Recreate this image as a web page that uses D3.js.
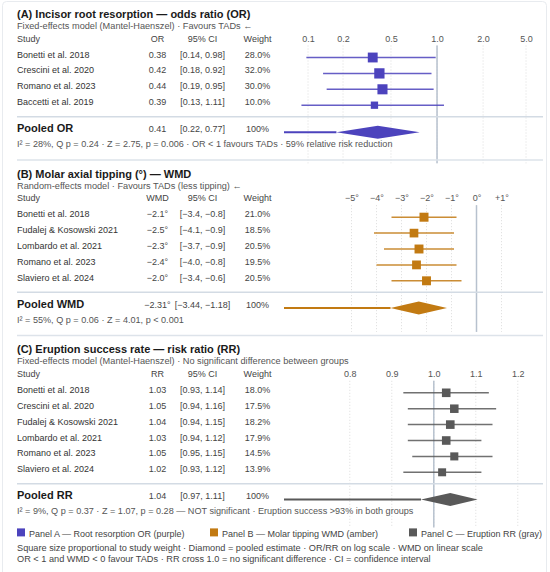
<!DOCTYPE html>
<html>
<head>
<meta charset="utf-8">
<script src="https://d3js.org/d3.v7.min.js"></script>
<style>
    body { margin: 0; background: #fff; }
    svg text { font-family: "Liberation Sans", Arial, sans-serif; }
</style>
</head>
<body>
<div id="chart"></div>
<script>
// Panel A - incisor root resorption, odds ratio
var studiesA = ["Bonetti et al. 2018", "Crescini et al. 2020", "Romano et al. 2023", "Baccetti et al. 2019"];
var estA = [0.38, 0.42, 0.44, 0.39];
var lowA = [0.14, 0.18, 0.19, 0.13];
var highA = [0.98, 0.92, 0.95, 1.11];
var weightA = [28.0, 32.0, 30.0, 10.0];
var pooledA = [0.41, 0.22, 0.77];
var ticksA = [0.1, 0.2, 0.5, 1.0, 2.0, 5.0];

// Panel B - molar axial tipping, weighted mean difference (degrees)
var studiesB = ["Bonetti et al. 2018", "Fudalej & Kosowski 2021", "Lombardo et al. 2021", "Romano et al. 2023", "Slaviero et al. 2024"];
var estB = [-2.1, -2.5, -2.3, -2.4, -2.0];
var lowB = [-3.4, -4.1, -3.7, -4.0, -3.4];
var highB = [-0.8, -0.9, -0.9, -0.8, -0.6];
var weightB = [21.0, 18.5, 20.5, 19.5, 20.5];
var pooledB = [-2.31, -3.44, -1.18];
var ticksB = [-5, -4, -3, -2, -1, 0, 1];

// Panel C - eruption success, risk ratio
var studiesC = ["Bonetti et al. 2018", "Crescini et al. 2020", "Fudalej & Kosowski 2021", "Lombardo et al. 2021", "Romano et al. 2023", "Slaviero et al. 2024"];
var estC = [1.03, 1.05, 1.04, 1.03, 1.05, 1.02];
var lowC = [0.93, 0.94, 0.94, 0.94, 0.95, 0.93];
var highC = [1.14, 1.16, 1.15, 1.12, 1.15, 1.12];
var weightC = [18.0, 17.5, 18.2, 17.9, 14.5, 13.9];
var pooledC = [1.04, 0.97, 1.11];
var ticksC = [0.8, 0.9, 1.0, 1.1, 1.2];

var legendItems = ["Panel A — Root resorption OR (purple)", "Panel B — Molar tipping WMD (amber)", "Panel C — Eruption RR (gray)"];
var notes = [
    "Square size proportional to study weight · Diamond = pooled estimate · OR/RR on log scale · WMD on linear scale",
    "OR < 1 and WMD < 0 favour TADs · RR cross 1.0 = no significant difference · CI = confidence interval"
];

var width = 550, height = 572;
var xL = 284, xR = 544;
var colStudy = 17, colEst = 157.5, colCI = 202.5, colW = 257.5;
var rowH = 15.9;

var fmt1 = d3.format(".1f"), fmt2 = d3.format(".2f");
var deg1 = function (v) { return fmt1(v) + "°"; };
var deg2 = function (v) { return fmt2(v) + "°"; };

var panels = [
    {
        title: "(A) Incisor root resorption — odds ratio (OR)",
        sub: "Fixed-effects model (Mantel-Haenszel) · Favours TADs ←",
        head: "OR", pooledLabel: "Pooled OR",
        foot: "I² = 28%, Q p = 0.24 · Z = 2.75, p = 0.006 · OR < 1 favours TADs · 59% relative risk reduction",
        studies: studiesA, est: estA, low: lowA, high: highA, weight: weightA, pooled: pooledA, ticks: ticksA,
        color: "#4c43bd",
        x: d3.scaleLog().domain([0.1, 5]).range([xL, xR]),
        fEst: fmt2, fCI: fmt2, fPooled: fmt2, fTick: d3.format(".1f"),
        tickMode: "spread", ref: 1, refExtra: 31
    },
    {
        title: "(B) Molar axial tipping (°) — WMD",
        sub: "Random-effects model · Favours TADs (less tipping) ←",
        head: "WMD", pooledLabel: "Pooled WMD",
        foot: "I² = 55%, Q p = 0.06 · Z = 4.01, p < 0.001",
        studies: studiesB, est: estB, low: lowB, high: highB, weight: weightB, pooled: pooledB, ticks: ticksB,
        color: "#c27a12",
        x: d3.scaleLinear().domain([-7.7, 2.7]).range([xL, xR]),
        fEst: deg1, fCI: fmt1, fPooled: deg2, fPooledCI: fmt2,
        fTick: function (v) { return (v > 0 ? "+" + v : d3.format("d")(v)) + "°"; },
        tickMode: "linear", ref: 0, refExtra: 24
    },
    {
        title: "(C) Eruption success rate — risk ratio (RR)",
        sub: "Fixed-effects model (Mantel-Haenszel) · No significant difference between groups",
        head: "RR", pooledLabel: "Pooled RR",
        foot: "I² = 9%, Q p = 0.37 · Z = 1.07, p = 0.28 — NOT significant · Eruption success >93% in both groups",
        studies: studiesC, est: estC, low: lowC, high: highC, weight: weightC, pooled: pooledC, ticks: ticksC,
        color: "#595959",
        x: d3.scaleLog().domain([0.7, 1.3]).range([xL, xR]),
        fEst: fmt2, fCI: fmt2, fPooled: fmt2, fTick: d3.format(".1f"),
        tickMode: "tangent", ref: 1, refExtra: 28
    }
];

var svg = d3.select("#chart")
    .append("svg")
    .attr("width", width)
    .attr("height", height);

// faint outer frame
svg.append("rect")
    .attr("x", 2.5).attr("y", 1.5)
    .attr("width", 544).attr("height", height + 10)
    .attr("rx", 4)
    .attr("fill", "none").attr("stroke", "#e8ebef").attr("stroke-width", 1);

// tick label positions: the axis labels are not always sitting on the data scale
function tickPositions(p) {
    var x = p.x;
    if (p.tickMode == "spread") {
        var pos = p.ticks.map(function (t) { return Math.max(xL + 24, Math.min(xR - 18, x(t))); });
        for (var i = 1; i < pos.length; i++) pos[i] = Math.max(pos[i], pos[i - 1] + 35);
        return pos;
    }
    if (p.tickMode == "tangent") {
        var slope = (x(p.ref + 0.001) - x(p.ref - 0.001)) / 0.002;
        return p.ticks.map(function (t) { return x(p.ref) + (t - p.ref) * slope; });
    }
    return p.ticks.map(function (t) { return x(t); });
}

var y = 0.3;
panels.forEach(function (p, pi) {
    var g = svg.append("g");
    var titleY = y + 17.7;
    var subY = titleY + 10.8;
    var headY = titleY + 23.5;
    var row0 = headY + 16;
    var n = p.studies.length;
    var sepY = row0 + (n - 1) * rowH + 11.5;
    var poolY = sepY + 15.6;
    var footY = poolY + 15;
    var bottomY = footY + 12.7;
    var x = p.x;
    p.footY = footY;

    g.append("text").attr("x", colStudy).attr("y", titleY)
        .attr("font-size", 11).attr("font-weight", "bold").attr("fill", "#1a1a1a")
        .text(p.title);
    g.append("text").attr("x", colStudy).attr("y", subY)
        .attr("font-size", 9.2).attr("fill", "#555")
        .text(p.sub);

    // header row
    var heads = [["Study", colStudy, "start"], [p.head, colEst, "middle"], ["95% CI", colCI, "middle"], ["Weight", colW, "middle"]];
    g.selectAll(".head").data(heads).enter().append("text")
        .attr("x", function (d) { return d[1]; })
        .attr("y", headY)
        .attr("text-anchor", function (d) { return d[2]; })
        .attr("font-size", 9).attr("fill", "#444")
        .text(function (d) { return d[0]; });

    // axis labels + grid
    var pos = tickPositions(p);
    var tickScale = d3.scaleOrdinal().domain(p.ticks).range(pos);
    var refTop = headY + 4, refBottom = poolY + p.refExtra;
    g.selectAll(".grid").data(pos).enter().append("line")
        .attr("x1", function (d) { return d; }).attr("x2", function (d) { return d; })
        .attr("y1", refTop).attr("y2", refBottom)
        .attr("stroke", "#dcdcdc").attr("stroke-width", 1).attr("stroke-dasharray", "1,2");
    var axis = g.append("g")
        .attr("transform", "translate(0," + headY + ")")
        .call(d3.axisTop(tickScale).tickValues(p.ticks).tickSize(0).tickPadding(0).tickFormat(p.fTick));
    axis.select(".domain").remove();
    axis.selectAll("text").attr("font-size", 9).attr("fill", "#555").attr("font-family", null);

    // reference line at no effect
    g.append("line")
        .attr("x1", x(p.ref)).attr("x2", x(p.ref))
        .attr("y1", refTop).attr("y2", refBottom)
        .attr("stroke", "#b7c1ce").attr("stroke-width", 1.5);

    // study rows
    var rows = p.studies.map(function (s, i) {
        return { name: s, est: p.est[i], low: p.low[i], high: p.high[i], w: p.weight[i], y: row0 + i * rowH };
    });
    var r = g.selectAll(".row").data(rows).enter().append("g");
    r.append("text").attr("x", colStudy).attr("y", function (d) { return d.y; })
        .attr("font-size", 9).attr("fill", "#333").text(function (d) { return d.name; });
    r.append("text").attr("x", colEst).attr("y", function (d) { return d.y; })
        .attr("text-anchor", "middle").attr("font-size", 9).attr("fill", "#444")
        .text(function (d) { return p.fEst(d.est); });
    r.append("text").attr("x", colCI).attr("y", function (d) { return d.y; })
        .attr("text-anchor", "middle").attr("font-size", 9).attr("fill", "#444")
        .text(function (d) { return "[" + p.fCI(d.low) + ", " + p.fCI(d.high) + "]"; });
    r.append("text").attr("x", colW).attr("y", function (d) { return d.y; })
        .attr("text-anchor", "middle").attr("font-size", 9).attr("fill", "#444")
        .text(function (d) { return fmt1(d.w) + "%"; });
    r.append("line")
        .attr("x1", function (d) { return x(d.low); })
        .attr("x2", function (d) { return x(d.high); })
        .attr("y1", function (d) { return d.y; }).attr("y2", function (d) { return d.y; })
        .attr("stroke", p.color).attr("stroke-width", 1.5).attr("opacity", 0.85);
    r.append("rect")
        .attr("x", function (d) { return x(d.est) - (3.5 + 1.2 * Math.sqrt(d.w)) / 2; })
        .attr("y", function (d) { return d.y - (3.5 + 1.2 * Math.sqrt(d.w)) / 2; })
        .attr("width", function (d) { return 3.5 + 1.2 * Math.sqrt(d.w); })
        .attr("height", function (d) { return 3.5 + 1.2 * Math.sqrt(d.w); })
        .attr("fill", p.color);

    // separator
    g.append("line").attr("x1", colStudy).attr("x2", xR - 1)
        .attr("y1", sepY).attr("y2", sepY)
        .attr("stroke", "#d3dbe4").attr("stroke-width", 1.5);

    // pooled row
    var fPCI = p.fPooledCI || p.fCI;
    g.append("text").attr("x", colStudy).attr("y", poolY)
        .attr("font-size", 11).attr("font-weight", "bold").attr("fill", "#1a1a1a")
        .text(p.pooledLabel);
    g.append("text").attr("x", colEst).attr("y", poolY)
        .attr("text-anchor", "middle").attr("font-size", 9).attr("fill", "#444")
        .text(p.fPooled(p.pooled[0]));
    g.append("text").attr("x", colCI).attr("y", poolY)
        .attr("text-anchor", "middle").attr("font-size", 9).attr("fill", "#444")
        .text("[" + fPCI(p.pooled[1]) + ", " + fPCI(p.pooled[2]) + "]");
    g.append("text").attr("x", colW).attr("y", poolY)
        .attr("text-anchor", "middle").attr("font-size", 9).attr("fill", "#444")
        .text("100%");
    g.append("line")
        .attr("x1", x.range()[0]).attr("x2", x(p.pooled[1]))
        .attr("y1", poolY).attr("y2", poolY)
        .attr("stroke", p.color).attr("stroke-width", 2);
    g.append("path")
        .attr("d", "M" + x(p.pooled[1]) + "," + poolY +
            "L" + x(p.pooled[0]) + "," + (poolY - 6.5) +
            "L" + x(p.pooled[2]) + "," + poolY +
            "L" + x(p.pooled[0]) + "," + (poolY + 6.5) + "Z")
        .attr("fill", p.color);

    g.append("text").attr("x", colStudy).attr("y", footY)
        .attr("font-size", 9.1).attr("fill", "#555")
        .text(p.foot);

    if (pi < panels.length - 1) {
        g.append("line").attr("x1", colStudy).attr("x2", xR - 1)
            .attr("y1", bottomY).attr("y2", bottomY)
            .attr("stroke", "#dde3ea").attr("stroke-width", 1.5);
    }
    y = bottomY;
});

// legend
var legY = panels[2].footY + 23;
var legX = [17, 210, 409];
var leg = svg.selectAll(".legend").data(legendItems).enter().append("g")
    .attr("transform", function (d, i) { return "translate(" + legX[i] + "," + legY + ")"; });
leg.append("rect").attr("x", 0).attr("y", -9).attr("width", 8).attr("height", 8)
    .attr("fill", function (d, i) { return panels[i].color; });
leg.append("text").attr("x", 12).attr("y", 0)
    .attr("font-size", 9).attr("fill", "#444")
    .text(function (d) { return d; });

svg.selectAll(".note").data(notes).enter().append("text")
    .attr("x", 17)
    .attr("y", function (d, i) { return legY + 13.4 + i * 11.6; })
    .attr("font-size", 9.2).attr("fill", "#444")
    .text(function (d) { return d; });
</script>
</body>
</html>
